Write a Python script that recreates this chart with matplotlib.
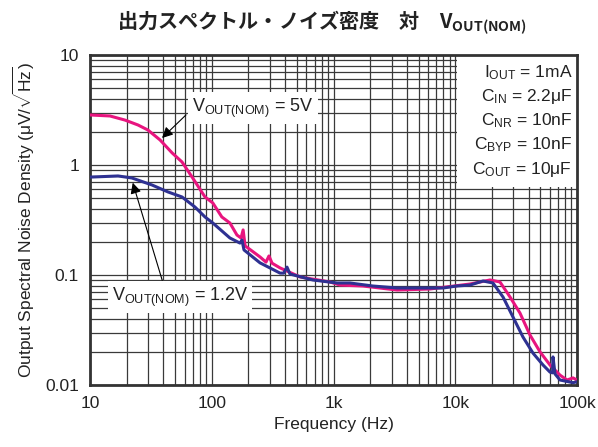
import matplotlib
matplotlib.use("Agg")
import matplotlib.pyplot as plt
from matplotlib.patches import Rectangle
from matplotlib.ticker import LogLocator, NullFormatter, FixedLocator, FixedFormatter

plt.rcParams['font.family'] = ['Liberation Sans', 'Noto Sans CJK JP', 'DejaVu Sans']
plt.rcParams['mathtext.fontset'] = 'custom'
plt.rcParams['mathtext.rm'] = 'Liberation Sans'
plt.rcParams['mathtext.it'] = 'Liberation Sans:italic'
plt.rcParams['mathtext.bf'] = 'Liberation Sans:bold'

# Data (Hz, uV/rtHz)
freq_5v = [10, 14.6, 19.4, 24.8, 29.9, 37.6, 47.2, 57, 68.9, 88, 102, 121, 141, 161,
           174, 181, 188, 249, 279, 295, 313, 364, 531, 936, 1130, 1745, 3323, 6200,
           13200, 19300, 23300, 28200, 34000, 41100, 49700, 60000, 72500, 82800,
           92700, 100000]
noise_5v = [2.85, 2.79, 2.56, 2.31, 2.08, 1.69, 1.29, 1.065, 0.778, 0.512, 0.452,
            0.337, 0.297, 0.231, 0.217, 0.257, 0.184, 0.146, 0.131, 0.149, 0.128,
            0.116, 0.096, 0.0864, 0.081, 0.0794, 0.073, 0.0746, 0.0828, 0.0901,
            0.0864, 0.063, 0.0451, 0.0285, 0.020, 0.0152, 0.0123, 0.0111, 0.0116,
            0.0111]

freq_12v = [10, 17, 22.1, 32.3, 43.7, 57, 72.8, 88, 102, 141, 170.6, 177, 184, 249,
            364, 390, 415, 439, 679, 1070, 1366, 2110, 3323, 5130, 7930, 10300,
            13200, 16900, 20400, 24700, 29800, 36000, 43500, 52600, 60000, 63000,
            63500, 66000, 72500, 92700, 100000]
noise_12v = [0.776, 0.795, 0.762, 0.658, 0.569, 0.512, 0.415, 0.337, 0.297, 0.217,
             0.195, 0.208, 0.169, 0.129, 0.104, 0.104, 0.118, 0.102, 0.090, 0.0846,
             0.0846, 0.0794, 0.0762, 0.0762, 0.0762, 0.0794, 0.081, 0.0882, 0.0846,
             0.063, 0.0415, 0.0273, 0.0195, 0.0152, 0.0131, 0.0129, 0.018, 0.0126,
             0.0111, 0.0105, 0.0107]

x_ticks = [10, 100, 1000, 10000, 100000]
x_labels = ['10', '100', '1k', '10k', '100k']
y_ticks = [0.01, 0.1, 1, 10]
y_labels = ['0.01', '0.1', '1', '10']

conditions = [r'$\mathregular{I_{OUT}}$ = 1mA',
              r'$\mathregular{C_{IN}}$ = 2.2$\mathregular{\mu}$F',
              r'$\mathregular{C_{NR}}$ = 10nF',
              r'$\mathregular{C_{BYP}}$ = 10nF',
              r'$\mathregular{C_{OUT}}$ = 10$\mathregular{\mu}$F']

PINK = '#E8157F'
BLUE = '#2E3192'

fig = plt.figure(figsize=(5.98, 4.47), dpi=100)
ax = fig.add_axes([90 / 598, 1 - 385 / 447, 487 / 598, 330 / 447])

ax.set_xscale('log')
ax.set_yscale('log')
ax.set_xlim(10, 100000)
ax.set_ylim(0.01, 10)

ax.xaxis.set_major_locator(FixedLocator(x_ticks))
ax.xaxis.set_major_formatter(FixedFormatter(x_labels))
ax.yaxis.set_major_locator(FixedLocator(y_ticks))
ax.yaxis.set_major_formatter(FixedFormatter(y_labels))
ax.xaxis.set_minor_locator(LogLocator(base=10, subs=range(2, 10), numticks=20))
ax.yaxis.set_minor_locator(LogLocator(base=10, subs=range(2, 10), numticks=20))
ax.xaxis.set_minor_formatter(NullFormatter())
ax.yaxis.set_minor_formatter(NullFormatter())
ax.tick_params(which='both', length=0, labelsize=12.5, colors='#222222', pad=8)

ax.grid(True, which='both', color='#3a3a3a', linewidth=0.9, zorder=1)
ax.set_axisbelow(True)
for s in ax.spines.values():
    s.set_linewidth(2)
    s.set_color('#333333')

ax.plot(freq_5v, noise_5v, color=PINK, lw=2.2, zorder=3)
ax.plot(freq_12v, noise_12v, color=BLUE, lw=2.2, zorder=3.1)

ax.set_xlabel('Frequency (Hz)', fontsize=12.5, color='#222222', labelpad=4)
ax.set_ylabel(r'Output Spectral Noise Density ($\mathregular{\mu V/\sqrt{Hz}}$)',
              fontsize=12.5, color='#222222', labelpad=6)

# conditions box
ax.add_patch(Rectangle((0.754, 0.6), 0.246, 0.4, transform=ax.transAxes,
                       facecolor='white', edgecolor='none', zorder=2.5))
cond_y = [0.948, 0.873, 0.8, 0.727, 0.652]
for txt, yy in zip(conditions, cond_y):
    ax.text(0.99, yy, txt, transform=ax.transAxes, ha='right', va='center',
            fontsize=12.5, color='#222222', zorder=4)

# curve labels
box = dict(facecolor='white', edgecolor='none', pad=3)
ax.text(218, 3.3, r'$\mathregular{V_{OUT(NOM)}}$ = 5V', ha='center', va='center',
        fontsize=13, color='#222222', bbox=box, zorder=4)
ax.annotate('', xy=(37.6, 1.69), xytext=(63.8, 2.97),
            arrowprops=dict(arrowstyle='-|>', color='black', lw=0.8,
                            mutation_scale=16), zorder=5)
ax.text(54.8, 0.063, r'$\mathregular{V_{OUT(NOM)}}$ = 1.2V', ha='center', va='center',
        fontsize=13, color='#222222', bbox=box, zorder=4)
ax.annotate('', xy=(22.1, 0.73), xytext=(39.8, 0.0846),
            arrowprops=dict(arrowstyle='-|>', color='black', lw=0.8,
                            mutation_scale=16), zorder=5)

fig.text(322 / 598, 1 - 22 / 447,
         '出力スペクトル・ノイズ密度　対　' + r'$\mathregular{V_{OUT(NOM)}}$',
         ha='center', va='center', fontsize=14.5, fontweight='bold',
         family=['Noto Sans CJK JP', 'DejaVu Sans'], color='#222222')

fig.savefig('out.png', dpi=100)
